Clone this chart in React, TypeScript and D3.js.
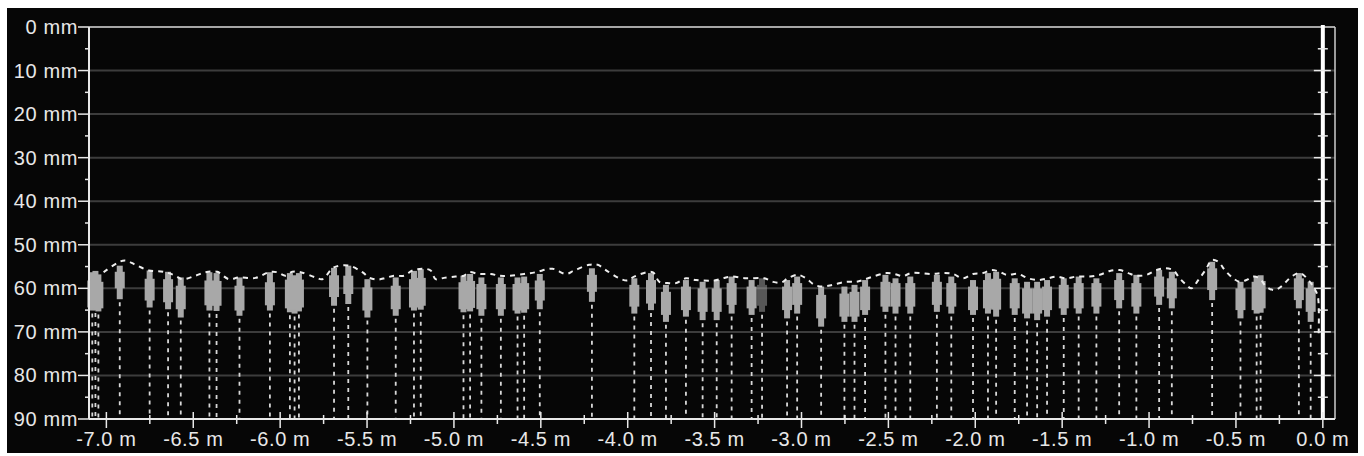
import React from 'react';
import * as d3 from 'd3';

// marks: position along track (m), whisker top / box top / box bottom / whisker bottom (mm)
const markX = [-7.081, -7.063, -7.046, -6.923, -6.751, -6.645, -6.572, -6.407, -6.366, -6.234, -6.059, -5.944, -5.917, -5.892, -5.690, -5.608, -5.498, -5.335, -5.230, -5.191, -4.945, -4.907, -4.842, -4.730, -4.634, -4.596, -4.506, -4.206, -3.962, -3.866, -3.780, -3.665, -3.569, -3.488, -3.402, -3.287, -3.227, -3.083, -3.025, -2.887, -2.753, -2.695, -2.634, -2.517, -2.459, -2.374, -2.221, -2.138, -2.013, -1.927, -1.880, -1.773, -1.702, -1.644, -1.587, -1.491, -1.405, -1.303, -1.172, -1.073, -0.942, -0.869, -0.637, -0.474, -0.381, -0.358, -0.138, -0.070];
const markTop = [56.3, 56.0, 56.8, 54.8, 55.9, 56.2, 57.5, 56.3, 56.5, 57.5, 56.3, 56.5, 57.0, 56.5, 55.3, 54.8, 57.9, 57.5, 56.0, 55.6, 57.1, 56.7, 57.5, 57.5, 57.5, 57.3, 56.7, 55.4, 57.7, 56.5, 59.2, 58.1, 58.5, 58.1, 57.3, 58.1, 57.7, 58.1, 57.3, 59.6, 59.6, 59.2, 58.1, 56.9, 57.7, 57.3, 56.9, 57.3, 58.1, 56.5, 56.2, 57.7, 58.5, 58.5, 58.1, 57.7, 57.3, 57.7, 56.5, 56.9, 55.8, 56.2, 53.9, 58.5, 57.3, 57.0, 56.5, 58.5];
const boxTop = [58.2, 58.0, 58.5, 56.2, 57.8, 57.9, 59.4, 58.2, 58.3, 59.4, 58.6, 58.0, 58.3, 58.0, 57.0, 57.1, 59.8, 59.4, 57.9, 57.6, 58.6, 58.3, 59.0, 59.0, 59.0, 58.8, 58.2, 56.9, 59.2, 58.1, 60.8, 59.6, 60.0, 60.0, 58.8, 59.6, 59.2, 59.6, 58.8, 61.5, 61.2, 60.8, 59.6, 58.5, 58.8, 58.8, 58.5, 58.8, 59.6, 58.1, 57.8, 58.8, 60.0, 60.0, 59.6, 59.2, 58.8, 58.8, 58.1, 58.8, 57.3, 57.7, 55.4, 60.0, 58.5, 58.3, 57.7, 60.0];
const boxBottom = [64.4, 64.2, 64.6, 60.0, 62.8, 63.2, 64.8, 63.9, 64.0, 65.1, 63.9, 64.6, 64.8, 64.4, 62.0, 61.3, 65.1, 64.8, 64.4, 64.0, 64.8, 64.5, 64.8, 64.8, 65.1, 64.8, 62.8, 60.8, 64.2, 63.5, 66.1, 65.0, 65.4, 65.4, 63.8, 64.6, 64.0, 65.0, 63.8, 66.9, 66.5, 66.5, 65.0, 64.2, 64.2, 64.2, 63.8, 64.2, 65.0, 64.6, 64.9, 64.6, 65.8, 65.8, 65.0, 64.6, 64.6, 64.2, 62.7, 64.2, 61.9, 62.3, 60.4, 65.0, 65.0, 64.6, 62.7, 65.4];
const markBottom = [65.1, 65.0, 65.3, 62.5, 64.4, 64.8, 66.7, 65.1, 65.2, 66.3, 65.1, 65.5, 65.8, 65.3, 64.0, 63.6, 66.7, 66.3, 65.1, 64.9, 65.5, 65.3, 66.3, 66.3, 65.8, 65.6, 64.8, 63.1, 65.8, 65.0, 67.7, 66.5, 67.3, 67.3, 65.8, 66.1, 65.4, 66.9, 65.8, 68.8, 67.7, 67.7, 66.1, 65.4, 65.8, 65.8, 65.4, 65.8, 66.1, 65.8, 66.5, 66.1, 66.9, 67.3, 66.5, 66.1, 65.8, 65.8, 64.6, 65.8, 63.8, 64.6, 62.7, 66.9, 65.8, 65.6, 64.6, 67.7];
const faintMarks = [-3.227];

// dotted profile line
const curveX = [-7.016, -6.929, -6.891, -6.833, -6.756, -6.670, -6.603, -6.564, -6.487, -6.430, -6.362, -6.296, -6.238, -6.142, -6.065, -6.017, -5.969, -5.930, -5.882, -5.796, -5.757, -5.691, -5.604, -5.527, -5.489, -5.441, -5.393, -5.345, -5.287, -5.239, -5.181, -5.134, -5.105, -5.057, -4.990, -4.942, -4.913, -4.855, -4.788, -4.740, -4.683, -4.596, -4.529, -4.433, -4.356, -4.308, -4.222, -4.173, -4.126, -4.049, -4.001, -3.963, -3.857, -3.818, -3.770, -3.722, -3.665, -3.607, -3.502, -3.453, -3.406, -3.319, -3.214, -3.165, -3.118, -3.079, -3.021, -2.974, -2.926, -2.877, -2.820, -2.743, -2.686, -2.647, -2.589, -2.512, -2.465, -2.416, -2.369, -2.244, -2.186, -2.128, -2.071, -2.013, -1.956, -1.908, -1.860, -1.821, -1.754, -1.696, -1.639, -1.581, -1.533, -1.476, -1.418, -1.342, -1.284, -1.226, -1.169, -1.120, -1.073, -1.015, -0.957, -0.909, -0.862, -0.824, -0.785, -0.756, -0.717, -0.669, -0.640, -0.602, -0.564, -0.516, -0.479, -0.440, -0.401, -0.364, -0.326, -0.279, -0.240, -0.180, -0.132, -0.083, -0.045, -0.028, -0.024];
const curveY = [56.3, 54.0, 53.6, 54.6, 55.9, 56.2, 57.1, 57.9, 57.1, 56.3, 56.2, 57.9, 57.5, 57.6, 56.3, 56.3, 57.1, 56.2, 56.3, 57.5, 57.9, 55.2, 54.8, 56.3, 57.5, 58.0, 57.6, 57.1, 57.1, 55.9, 55.5, 55.9, 57.9, 57.6, 57.3, 57.1, 56.3, 56.7, 56.7, 57.1, 57.1, 56.7, 56.3, 55.5, 56.7, 55.9, 54.6, 54.6, 55.8, 57.7, 58.2, 57.3, 56.3, 58.5, 58.8, 58.8, 57.7, 58.1, 58.2, 57.7, 57.3, 57.7, 57.7, 58.5, 58.7, 57.7, 56.9, 57.7, 59.2, 59.6, 59.2, 58.5, 58.5, 58.1, 57.3, 56.5, 56.7, 57.2, 56.5, 56.7, 56.5, 56.7, 57.7, 56.7, 56.5, 55.8, 56.2, 56.9, 56.7, 57.7, 58.1, 57.7, 57.3, 57.7, 57.3, 57.3, 56.9, 56.0, 55.8, 56.5, 57.1, 56.9, 55.8, 55.4, 55.8, 57.7, 59.2, 60.0, 58.1, 55.4, 53.5, 53.9, 55.8, 57.7, 58.5, 58.1, 57.3, 57.7, 59.6, 60.4, 59.6, 57.3, 56.5, 58.1, 60.3, 62.0, 70.3];

const xMajor = d3.range(-7.0, 0.001, 0.5);
const xMinor = d3.range(-6.75, 0, 0.5);
const yMajor = d3.range(0, 91, 10);
const yMinor = d3.range(5, 90, 10);
const gridMm = d3.range(10, 81, 10);

const W = 1364;
const H = 456;
const FONT = '"Liberation Sans", Arial, sans-serif';
const FG = '#e8e8e8';

export default function App() {
  const x = d3.scaleLinear().domain([-7.1, 0.07]).range([89, 1335]);
  const y = d3.scaleLinear().domain([0, 90]).range([27, 419]);
  const [x0, x1] = x.range();
  const [y0, y1] = y.range();
  const zeroX = x(0);
  const fmtX = (v: number) => v.toFixed(1) + ' m';

  const pts: [number, number][] = curveX.map((v, i) => [v, curveY[i]]);
  const profile = d3
    .line<[number, number]>()
    .x((d) => x(d[0]))
    .y((d) => y(d[1]))
    .curve(d3.curveCatmullRom.alpha(0.5))(pts);

  return (
    <svg width={W} height={H} style={{ position: 'absolute', left: 0, top: 0 }} fontFamily={FONT}>
      <rect x={0} y={0} width={W} height={H} fill="#ffffff" />
      <rect x={7} y={8} width={1351} height={445} fill="#060606" />

      {/* grid */}
      {gridMm.map((m) => (
        <line key={'g' + m} x1={x0} x2={x1} y1={y(m)} y2={y(m)} stroke="#3c3c3c" strokeWidth={2} />
      ))}

      {/* drop lines */}
      {markX.map((v, i) => (
        <line
          key={'d' + i}
          x1={x(v)}
          x2={x(v)}
          y1={y(markBottom[i]) + 3}
          y2={y1}
          stroke="#d8d8d8"
          strokeWidth={1.8}
          strokeDasharray="4,5"
        />
      ))}

      {/* marks */}
      {markX.map((v, i) => {
        const cx = x(v);
        const op = faintMarks.includes(v) ? 0.5 : 1;
        return (
          <g key={'m' + i} opacity={op} fill="#a8a8a8">
            <rect x={cx - 3} width={6} y={y(markTop[i])} height={y(markBottom[i]) - y(markTop[i])} />
            <rect x={cx - 5} width={10} y={y(boxTop[i])} height={y(boxBottom[i]) - y(boxTop[i])} />
          </g>
        );
      })}

      {/* profile */}
      <path d={profile || ''} fill="none" stroke="#eeeeee" strokeWidth={2} strokeDasharray="5,5" />

      {/* frame */}
      <line x1={x0} x2={x1} y1={y0} y2={y0} stroke="#dddddd" strokeWidth={1.5} />
      <line x1={x1} x2={x1} y1={y0} y2={y1} stroke="#cccccc" strokeWidth={1.5} />
      <line x1={x0} x2={x0} y1={y0} y2={y1} stroke={FG} strokeWidth={2} />
      <line x1={x0} x2={x1} y1={y1} y2={y1} stroke={FG} strokeWidth={2} />

      {/* zero line */}
      <line x1={zeroX} x2={zeroX} y1={y0 - 2} y2={y1} stroke="#ffffff" strokeWidth={4} />
      {yMajor.slice(1, -1).map((m) => (
        <line key={'rz' + m} x1={zeroX - 9} x2={zeroX + 8} y1={y(m)} y2={y(m)} stroke={FG} strokeWidth={1.5} />
      ))}
      {yMinor.map((m) => (
        <line key={'rm' + m} x1={zeroX - 5} x2={zeroX + 5} y1={y(m)} y2={y(m)} stroke={FG} strokeWidth={1.5} />
      ))}

      {/* y axis */}
      {yMajor.map((m) => (
        <g key={'y' + m}>
          <line x1={x0 - 11} x2={x0} y1={y(m)} y2={y(m)} stroke={FG} strokeWidth={1.5} />
          <text x={x0 - 11} y={y(m) + 7} textAnchor="end" fontSize={20} letterSpacing={0.6} fill={FG}>
            {m} mm
          </text>
        </g>
      ))}
      {yMinor.map((m) => (
        <line key={'ym' + m} x1={x0 - 4} x2={x0} y1={y(m)} y2={y(m)} stroke={FG} strokeWidth={1.5} />
      ))}

      {/* x axis */}
      {xMajor.map((v) => (
        <g key={'x' + v}>
          <line x1={x(v)} x2={x(v)} y1={y1 - 7} y2={y1 + 9} stroke={FG} strokeWidth={1.5} />
          <text x={x(v)} y={y1 + 27} textAnchor="middle" fontSize={20} letterSpacing={0.6} fill={FG}>
            {fmtX(v)}
          </text>
        </g>
      ))}
      {xMinor.map((v) => (
        <line key={'xm' + v} x1={x(v)} x2={x(v)} y1={y1 - 4} y2={y1 + 5} stroke={FG} strokeWidth={1.5} />
      ))}
    </svg>
  );
}
